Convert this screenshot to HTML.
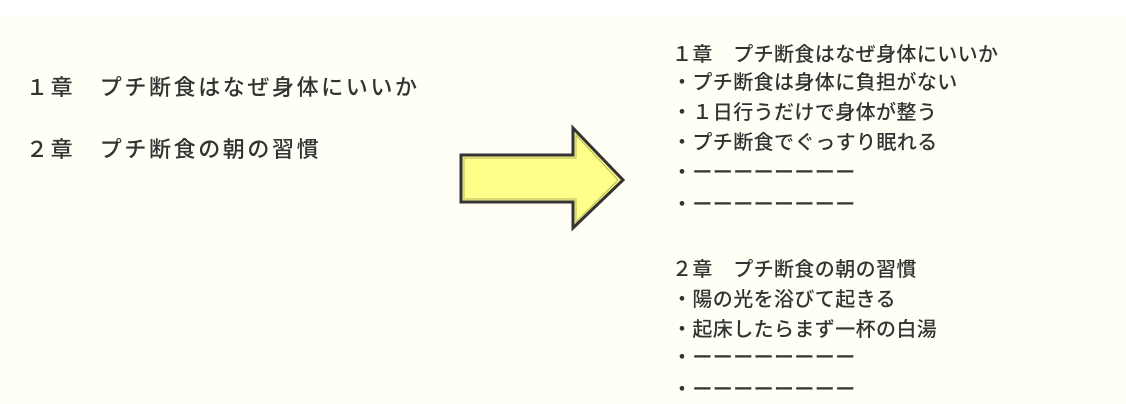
<!DOCTYPE html>
<html><head><meta charset="utf-8"><style>
html,body{margin:0;padding:0}
body{width:1126px;height:404px;position:relative;background:#fff;overflow:hidden;font-family:"Liberation Sans","Noto Sans CJK JP",sans-serif;color:#333}
#bg{position:absolute;left:0;top:16px;width:1126px;height:388px;background:#fffff5}
.t{position:absolute;font-size:20px;line-height:24px;white-space:pre;letter-spacing:0.4px;font-weight:500}
.l{font-size:22px;letter-spacing:2.6px}
</style></head><body>
<div id="bg"></div>
<div class="t l" style="left:26px;top:76px">１章　プチ断食はなぜ身体にいいか</div>
<div class="t l" style="left:26px;top:138px">２章　プチ断食の朝の習慣</div>
<svg style="position:absolute;left:0;top:0" width="1126" height="404">
<polygon points="461,155 573,155 573,128 623,180 573,228 573,202 461,202" fill="#fefe88" stroke="#333" stroke-width="3" stroke-linejoin="miter"/>
<polygon points="464,158 576,158 576,135 618,180 576,222 576,199 464,199" fill="none" stroke="#b8b860" stroke-width="1"/>
</svg>
<div class="t" style="left:672px;top:43px">１章　プチ断食はなぜ身体にいいか</div>
<div class="t" style="left:672px;top:71px">・プチ断食は身体に負担がない</div>
<div class="t" style="left:672px;top:101px">・１日行うだけで身体が整う</div>
<div class="t" style="left:672px;top:131px">・プチ断食でぐっすり眠れる</div>
<div class="t" style="left:672px;top:161px">・ーーーーーーーー</div>
<div class="t" style="left:672px;top:193px">・ーーーーーーーー</div>
<div class="t" style="left:672px;top:258px">２章　プチ断食の朝の習慣</div>
<div class="t" style="left:672px;top:288px">・陽の光を浴びて起きる</div>
<div class="t" style="left:672px;top:318px">・起床したらまず一杯の白湯</div>
<div class="t" style="left:672px;top:346px">・ーーーーーーーー</div>
<div class="t" style="left:672px;top:378px">・ーーーーーーーー</div>
</body></html>
